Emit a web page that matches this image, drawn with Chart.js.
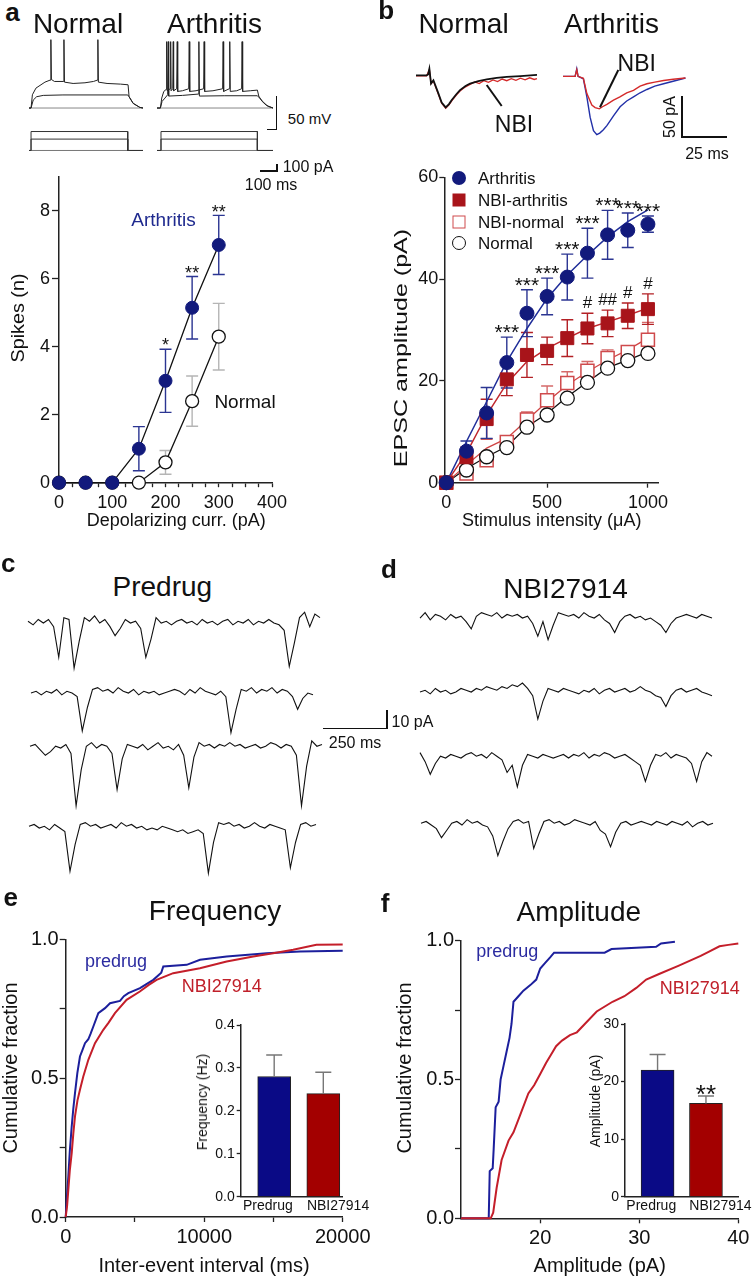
<!DOCTYPE html>
<html><head><meta charset="utf-8">
<script src="https://cdn.jsdelivr.net/npm/chart.js@4.4.1/dist/chart.umd.min.js"></script>
<style>
html,body{margin:0;padding:0;background:#fff;}
#fig{position:relative;width:755px;height:1280px;overflow:hidden;background:#fff;font-family:'Liberation Sans',Arial,Helvetica,sans-serif;color:#111;}
#fig canvas{position:absolute;}
.t{position:absolute;white-space:nowrap;line-height:1;transform:translate(-50%,-50%);}
.tl{position:absolute;white-space:nowrap;line-height:1;transform:translate(0,-50%);}
.ln{position:absolute;background:#111;}
.mk{position:absolute;box-sizing:border-box;transform:translate(-50%,-50%);}
</style></head><body><div id="fig"></div>
<script>
// ================= DATA =================
// panel a : firing vs depolarizing current
const spikeCurrent = [0, 50, 100, 150, 200, 250, 300];
const spikesArthritis = [0, 0, 0, 1.0, 3.0, 5.15, 7.0];
const spikesArthritisSem = [0, 0, 0, 0.65, 0.93, 0.92, 0.87];
const spikesNormal = [0, 0, 0, 0, 0.6, 2.4, 4.3];
const spikesNormalSem = [0, 0, 0, 0, 0.35, 0.74, 0.98];
const spikesSignif = ['', '', '', '', '*', '**', '**'];
const spikesXTicks = [0,25,50,75,100,125,150,175,200,225,250,275,300,325,350,375,400];
const spikesXLabels = [0, 100, 200, 300, 400];
const spikesYTicks = [0, 2, 4, 6, 8];

// panel a : example voltage traces [ms, mV]
const normalV0 = [[0,-70],[672,-70]];
const normalV1 = [[0,-70],[12,-70],[25,-58],[45,-53],[84,-51],[200,-50.3],[582,-50.3],[590,-53],[614,-63],[653,-69],[672,-70]];
const normalV2 = [[0,-70],[12,-70],[20,-50],[41,-40],[94,-31],[124,-28],[129,33],[132,-27],[150,-30],[202,-30],[206,33],[209,-31],[260,-33],[330,-32],[380,-30],[403,-28],[406,33],[409,-31],[460,-33],[540,-34],[584,-35],[590,-53],[614,-63],[653,-69],[672,-70]];
const arthV0 = [[0,-70],[684,-70]];
const arthV1 = [[0,-70],[20,-70],[30,-60],[47,-55],[63,-50],[66.5,30],[69,-52],[150,-51],[244,-49],[247,30],[250,-52],[400,-51.5],[592,-51.5],[605,-55],[630,-62],[655,-67.5],[684,-70]];
const arthV2 = [[0,-70],[20,-70],[28,-55],[40,-45],[54,-42],[57,30],[60,-44],[78,-41],[80.6,30],[83,-44],[93,-41],[95.9,30],[98,-44],[116,-41],[119.4,30],[122,-45],[150,-44],[187,-41],[190,30],[193,-45],[230,-44],[275,-41],[278,30],[281,-45],[330,-44],[387,-41],[390,30],[393,-45],[426,-41],[429,30],[432,-45],[470,-44],[499,-41],[501.8,30],[505,-45],[550,-44],[592,-43],[600,-52],[620,-60],[645,-66],[684,-70]];
// current steps [ms, pA]
const normalI0 = [[0,0],[672,0]];
const normalI1 = [[0,0],[12,0],[12,150],[582,150],[582,0],[672,0]];
const normalI2 = [[0,0],[12,0],[12,250],[582,250],[582,0],[672,0]];
const arthI0 = [[0,0],[684,0]];
const arthI1 = [[0,0],[23.5,0],[23.5,150],[592,150],[592,0],[684,0]];
const arthI2 = [[0,0],[23.5,0],[23.5,250],[592,250],[592,0],[684,0]];

// panel b : EPSC amplitude vs stimulus intensity
const stimIntensity = [0,100,200,300,400,500,600,700,800,900,1000];
const epscArthritis = [0,6.2,13.7,23.6,33.3,36.6,40.4,45.1,48.7,49.6,50.8];
const epscArthritisSem = [0,2,5,5,4.6,3.6,4.5,4.9,4.8,3.4,1.6];
const epscNbiArthritis = [0,5.0,12.5,20.3,25.1,25.9,28.4,30.3,31.3,32.8,34.1];
const epscNbiArthritisSem = [0,2,3.9,3.2,4.4,2.7,3.6,3.0,2.6,2.5,3.0];
const epscNbiNormal = [0,1.8,4.4,8.0,12.4,16.2,19.6,22.0,24.5,25.7,28.1];
const epscNbiNormalSem = [0,0.5,0.5,0.6,1.5,2.8,2.2,1.8,1.6,1.2,3.4];
const epscNormal = [0,2.5,5.1,6.9,10.9,13.3,16.6,19.7,22.5,24.0,25.4];
const fitArthritis = [0,8.1,15.9,23.8,30.3,36.2,40.8,44.7,48.3,51.3,53.6];
const fitNbiArthritis = [0,5.8,13.3,19.5,23.8,26.4,28.4,30.3,31.6,32.9,34.3];
const fitNbiNormal = [0,3.5,6.8,8.7,12.3,15.9,19.2,21.8,24.1,26.1,28.4];
const fitNormal = [0,2.8,5.1,7.1,11,13.6,16.9,19.8,22.6,24.1,25.7];
const epscArthritisSignif = ['','','','***','***','***','***','***','***','***','***'];
const epscNbiSignif = ['','','','','','','','#','##','#','#'];
const epscXTicks = [0, 500, 1000];
const epscYTicks = [0, 20, 40, 60];

// panel b : example EPSC traces [ms, pA]
const epscTraceNormal = [[0,0],[5.8,0],[6.6,1],[7.3,8],[7.8,-2],[8.2,-10],[8.8,-8],[9.5,-6],[12.2,-22],[14,-33],[16.2,-39],[18,-35],[19.5,-30],[22,-23],[24,-18],[27,-13],[29.5,-10],[34,-7],[38.6,-5],[44,-3],[49.5,-2],[57,-1],[66,0.5]];
const epscTraceNormalNbi = [[0,-0.5],[5.8,-0.5],[7.3,7],[8.2,-10],[9.5,-7],[12.2,-23],[14,-34],[16.2,-40],[18,-36],[19.5,-31],[22,-24],[24,-19],[27,-14],[29.5,-11],[32,-8],[34.5,-10],[37,-6.5],[39.5,-8.5],[42,-5.5],[44.5,-7.5],[47,-4.5],[49.5,-6.5],[52,-4],[54.5,-6],[57,-3.5],[59.5,-5.5],[62,-3],[64.5,-5],[66,-4]];
const epscTraceArth = [[0,0],[6.6,0],[7.5,9],[8.2,0],[11.1,-3],[13,-25],[14.8,-50],[16.6,-66],[18.4,-71],[20,-69],[22,-65],[23.9,-60],[27.5,-48],[31.1,-37],[34.7,-30],[38.4,-25],[42,-20],[45.7,-16],[50,-12],[54.8,-9],[60,-6],[66.7,-2]];
const epscTraceArthNbi = [[0,0],[6.6,0],[7.5,8],[8.2,0],[11.1,-2.5],[13,-21],[15.7,-35],[17.5,-38],[19.8,-39.5],[21.5,-37],[23.9,-34],[27.5,-29],[31,-25],[34.7,-20],[38.4,-17],[42,-12],[45.7,-9],[50,-7],[54.8,-5],[60,-3.5],[66.7,-2]];

// panels c,d : sEPSC recordings, pA sampled every 20 ms
const sampleMs = 20;
const predrugTrace1 = [1,-1,2,0,2,-2,-19,3,2,-25,-10,3,1,4,0,2,-2,-7,-3,2,0,1,-3,-19,-9,3,0,1,-1,1,2,0,1,-1,2,0,1,-1,1,2,-1,1,0,2,-1,1,0,2,0,-1,-4,-24,-11,3,6,-2,5,3];
const predrugTrace2 = [0,1,-1,1,0,2,-1,1,0,-2,-21,-8,2,3,1,2,0,3,1,0,2,-1,1,0,1,-1,0,1,2,1,-1,2,0,3,1,0,-1,1,-2,-22,-9,2,1,3,0,2,1,3,0,2,1,-2,-9,-3,0,-1];
const predrugTrace3 = [1,2,-1,-4,-2,1,0,2,-3,-32,-12,1,3,0,2,1,-3,-23,-6,2,1,0,2,-1,1,3,0,1,-1,2,-4,-22,-5,3,1,2,0,2,1,3,1,2,0,1,2,0,1,3,2,0,2,1,-4,-32,-10,4,1,2];
const predrugTrace4 = [1,2,0,1,-1,2,0,-2,-24,-9,2,3,1,2,0,1,2,0,3,1,2,0,1,-1,0,-1,1,0,-1,-2,-1,-3,-2,-1,-3,-25,-8,3,2,3,1,2,0,1,3,1,0,2,1,0,-1,-22,-8,2,3,1,2];
const nbiTrace1 = [0,3,-1,2,1,-1,2,0,1,-2,-6,1,3,2,1,3,0,2,1,2,0,1,-3,-10,-2,-12,-4,3,2,1,2,0,3,1,0,2,-1,-3,-8,-2,1,2,0,1,-1,0,-2,-4,-8,-3,0,1,2,1,0,2,1,0];
const nbiTrace2 = [0,1,-1,2,0,1,-1,0,2,1,0,2,1,3,2,1,3,2,4,3,5,2,-2,-15,-5,2,1,0,2,1,0,-1,1,0,2,-1,1,2,0,1,2,0,1,3,1,0,-2,-3,-8,-2,1,2,0,1,2,0,-1,-2];
const nbiTrace3 = [3,-2,-9,-3,1,0,2,1,0,2,3,1,2,0,3,1,-1,-8,-4,-16,-4,2,1,0,2,1,0,1,2,0,2,1,3,0,2,1,3,2,0,1,2,0,-2,-4,-13,-4,2,1,3,0,2,1,0,-3,-13,-2,3,1];
const nbiTrace4 = [1,2,0,-2,-7,-3,1,2,0,3,1,2,0,-1,-6,-17,-9,-2,2,3,1,2,-13,-5,2,3,1,2,0,1,3,2,1,0,2,-3,-5,-12,-4,1,2,0,1,2,1,0,2,1,0,2,1,0,2,-1,1,2,0,1];

// panel e : cumulative inter-event interval [ms, fraction]
const ieiPredrug = [[0,0],[100,0.08],[190,0.146],[300,0.24],[433,0.326],[550,0.39],[671,0.446],[840,0.518],[1030,0.578],[1200,0.6],[1394,0.626],[1635,0.64],[1800,0.66],[1995,0.686],[2355,0.734],[2840,0.752],[3200,0.77],[3920,0.778],[4200,0.795],[4520,0.806],[5365,0.824],[5800,0.838],[6325,0.854],[6900,0.88],[7047,0.902],[8736,0.908],[9697,0.926],[11625,0.938],[14512,0.95],[16917,0.956],[20000,0.959]];
const ieiNbi = [[0,0],[100,0.04],[190,0.098],[300,0.17],[433,0.23],[550,0.3],[671,0.362],[850,0.42],[1030,0.458],[1270,0.506],[1635,0.566],[2115,0.626],[2715,0.674],[3100,0.7],[3555,0.734],[4395,0.782],[5355,0.812],[6000,0.836],[6560,0.854],[7760,0.878],[9690,0.896],[11620,0.92],[13540,0.938],[14980,0.95],[16420,0.962],[18100,0.98],[20000,0.981]];
const ieiXTicks = [0, 5000, 10000, 15000, 20000];
const ieiXLabels = [0, 10000, 20000];
const fracTicks = [0, 0.25, 0.5, 0.75, 1];
const fracLabels = [0, 0.5, 1];

// panel f : cumulative amplitude [pA, fraction]
const ampPredrug = [[12,0],[14.8,0],[14.9,0.17],[15.2,0.18],[15.3,0.25],[15.5,0.4],[15.8,0.42],[16,0.5],[16.3,0.55],[16.6,0.6],[16.9,0.65],[17.1,0.7],[17.3,0.78],[17.8,0.8],[18.3,0.82],[19,0.84],[19.6,0.86],[20,0.9],[20.5,0.92],[21,0.94],[21.4,0.957],[26.5,0.957],[27.2,0.97],[31.7,0.978],[32.2,0.99],[33.6,0.996]];
const ampNbi = [[12,0],[15,0],[15.25,0.02],[15.6,0.11],[16.1,0.21],[16.8,0.28],[17.3,0.31],[17.95,0.37],[18.8,0.45],[19.4,0.48],[20,0.52],[20.6,0.56],[21.1,0.59],[21.6,0.62],[22.2,0.64],[23,0.66],[23.7,0.67],[24.5,0.7],[25.7,0.745],[27.3,0.78],[28.5,0.8],[29.7,0.83],[30.7,0.86],[32,0.88],[34,0.91],[36.2,0.945],[37,0.96],[38.1,0.98],[39,0.985],[40,0.99]];
const ampXTicks = [20, 30, 40];

// insets
const insetGroups = ['Predrug', 'NBI27914'];
const freqMean = [0.28, 0.24];
const freqSem = [0.05, 0.05];
const freqYTicks = [0, 0.1, 0.2, 0.3, 0.4];
const ampMean = [22.0, 16.2];
const ampSem = [2.7, 1.3];
const ampSignif = ['', '**'];
const ampYTicks = [0, 10, 20, 30];

// ================= STYLE / HELPERS =================
const FONT = "'Liberation Sans', Arial, Helvetica, sans-serif";
const NAVY = '#121a7c', DRED = '#a8141a', LRED = '#cf4a4c';
const CBLUE = '#1c1f9c', CRED = '#c41e2a', BARB = '#0a0a86', BARR = '#a30000';
Chart.defaults.font.family = FONT;
Chart.defaults.color = '#111';
Chart.defaults.animation = false;
Chart.defaults.responsive = false;
Chart.defaults.devicePixelRatio = 1;
Chart.defaults.events = [];
Chart.defaults.plugins.legend.display = false;
Chart.defaults.plugins.tooltip.enabled = false;

const fig = document.getElementById('fig');
const overlays = {};
function mkCanvas(id, left, top, w, h) {
  const c = document.createElement('canvas');
  c.id = id; c.width = Math.round(w); c.height = Math.round(h);
  c.style.left = left + 'px'; c.style.top = top + 'px';
  fig.appendChild(c); return c;
}
const xy = (xs, ys) => xs.map((x, i) => ({x, y: ys[i]}));
const pairs = arr => arr.map(p => ({x: p[0], y: p[1]}));
const sampled = ys => ys.map((y, i) => ({x: i * sampleMs, y}));

const overlayPlugin = {
  id: 'overlay',
  beforeDatasetsDraw(chart) { drawErr(chart, false); },
  afterDatasetsDraw(chart) {
    drawErr(chart, true);
    const o = overlays[chart.canvas.id]; if (!o || !o.marks) return;
    const ctx = chart.ctx, xs = chart.scales.x, ys = chart.scales.y;
    for (const m of o.marks) {
      ctx.save();
      ctx.fillStyle = m.color || '#111';
      ctx.font = (m.bold ? 'bold ' : '') + m.size + 'px ' + FONT;
      ctx.textAlign = 'center'; ctx.textBaseline = 'alphabetic';
      ctx.fillText(m.text, xs.getPixelForValue(m.x), ys.getPixelForValue(m.y) - m.gap + m.gc * m.size);
      ctx.restore();
    }
  }
};
function drawErr(chart, after) {
  const o = overlays[chart.canvas.id]; if (!o || !o.err) return;
  const ctx = chart.ctx, xs = chart.scales.x, ys = chart.scales.y;
  for (const s of o.err) {
    if (!!s.after !== after) continue;
    ctx.save(); ctx.strokeStyle = s.color; ctx.lineWidth = s.lw || 1.4;
    ctx.beginPath();
    s.x.forEach((xv, i) => {
      const e = s.err[i]; if (!e) return;
      const px = xs.getPixelForValue(xv);
      const pt = ys.getPixelForValue(s.y[i] + e);
      const pb = ys.getPixelForValue(s.up ? s.y[i] : s.y[i] - e);
      ctx.moveTo(px, pt); ctx.lineTo(px, pb);
      ctx.moveTo(px - s.cap, pt); ctx.lineTo(px + s.cap, pt);
      if (!s.up) { ctx.moveTo(px - s.cap, pb); ctx.lineTo(px + s.cap, pb); }
    });
    ctx.stroke(); ctx.restore();
  }
}
Chart.register(overlayPlugin);

function signifMarks(xs, ys, errs, labels, style) {
  const out = [];
  labels.forEach((t, i) => { if (t) out.push(Object.assign({x: xs[i], y: ys[i] + errs[i], text: t}, style)); });
  return out;
}

function mkScale(o) {
  return {
    type: 'linear', min: o.min, max: o.max, offset: false, bounds: 'data',
    afterBuildTicks: s => { s.ticks = o.ticks.map(v => ({value: v})); },
    afterFit: s => { if (o.w != null) s.width = o.w; if (o.h != null) s.height = o.h; },
    ticks: { autoSkip: false, maxRotation: 0, minRotation: 0, padding: o.pad, color: '#111',
             font: {size: o.size, family: FONT}, callback: (v, i) => o.fmt(v, i) },
    grid: { display: o.noTicks ? false : true, offset: false, drawOnChartArea: false, drawTicks: !o.noTicks,
            tickLength: o.tl || 0, tickWidth: 1.3, tickColor: '#222' },
    border: { display: true, color: '#222', width: 1.5 }
  };
}

function traceChart(id, p, sets) {
  const pad = 3;
  const W = (p.xMax - p.xMin) * p.kx, H = (p.yMax - p.yMin) * p.ky;
  const c = mkCanvas(id, p.left - pad, p.top - pad, W + 2 * pad, H + 2 * pad);
  new Chart(c, {
    type: 'line',
    data: { datasets: sets.map(s => ({ data: s.data, borderColor: s.color, borderWidth: s.lw || 1,
            pointRadius: 0, clip: false, tension: 0 })) },
    options: { layout: {padding: pad},
      scales: { x: {type: 'linear', display: false, min: p.xMin, max: p.xMax},
                y: {type: 'linear', display: false, min: p.yMin, max: p.yMax} } }
  });
}

// ================= PANEL a : traces =================
const vPos = {xMin: 0, yMin: -76, yMax: 40, kx: 0.17, ky: 0.66, top: 108 - 110 * 0.66};
traceChart('aVn', Object.assign({}, vPos, {left: 29, xMax: 672}), [
  {data: pairs(normalV2), color: '#222'}, {data: pairs(normalV1), color: '#222'}, {data: pairs(normalV0), color: '#888'}]);
traceChart('aVa', Object.assign({}, vPos, {left: 157, xMax: 684}), [
  {data: pairs(arthV2), color: '#222'}, {data: pairs(arthV1), color: '#222'}, {data: pairs(arthV0), color: '#888'}]);
const iPos = {xMin: 0, yMin: -20, yMax: 270, kx: 0.17, ky: 0.075, top: 150.7 - 270 * 0.075};
traceChart('aIn', Object.assign({}, iPos, {left: 29, xMax: 672}), [
  {data: pairs(normalI2), color: '#333'}, {data: pairs(normalI1), color: '#333'}, {data: pairs(normalI0), color: '#777'}]);
traceChart('aIa', Object.assign({}, iPos, {left: 157, xMax: 684}), [
  {data: pairs(arthI2), color: '#333'}, {data: pairs(arthI1), color: '#333'}, {data: pairs(arthI0), color: '#777'}]);

// ================= PANEL a : plot =================
overlays['cA'] = {
  err: [
    {x: spikeCurrent, y: spikesNormal, err: spikesNormalSem, color: '#b5b5b5', cap: 6},
    {x: spikeCurrent, y: spikesArthritis, err: spikesArthritisSem, color: '#2b3592', cap: 6}
  ],
  marks: signifMarks(spikeCurrent, spikesArthritis, spikesArthritisSem, spikesSignif, {size: 18, gap: 8, gc: 0.57})
};
new Chart(mkCanvas('cA', 0, 160, 300, 380), {
  type: 'line',
  data: { datasets: [
    { data: xy(spikeCurrent, spikesArthritis), borderColor: '#111', borderWidth: 1.3, pointRadius: 6.5,
      pointBackgroundColor: NAVY, pointBorderColor: NAVY, pointBorderWidth: 1, clip: false },
    { data: xy(spikeCurrent, spikesNormal), borderColor: '#111', borderWidth: 1.3, pointRadius: 6.5,
      pointBackgroundColor: '#fff', pointBorderColor: '#111', pointBorderWidth: 1.3, clip: false }
  ]},
  options: {
    layout: {padding: {left: 0, top: 17, right: 28, bottom: 0}},
    scales: {
      x: mkScale({min: 0, max: 400, ticks: spikesXTicks, fmt: v => spikesXLabels.includes(v) ? String(v) : '',
                  size: 18, tl: 4.5, pad: 5, h: 57.3}),
      y: mkScale({min: 0, max: 9, ticks: spikesYTicks, fmt: v => String(v), size: 18, tl: 7, pad: 2, w: 59})
    }
  }
});

// ================= PANEL b : traces =================
const ePos = {xMin: 0, yMin: -75, yMax: 15, kx: 1.83, ky: 0.82};
traceChart('bTn', Object.assign({}, ePos, {left: 416, top: 75.5 - 15 * 0.82, xMax: 66}), [
  {data: pairs(epscTraceNormal), color: '#111', lw: 1.8}, {data: pairs(epscTraceNormalNbi), color: '#d42a2a', lw: 1.3}]);
traceChart('bTa', Object.assign({}, ePos, {left: 563, top: 76 - 15 * 0.82, xMax: 67}), [
  {data: pairs(epscTraceArthNbi), color: '#d42a2a', lw: 1.4}, {data: pairs(epscTraceArth), color: '#2230a8', lw: 1.4}]);

// ================= PANEL b : plot =================
overlays['cB'] = {
  err: [
    {x: stimIntensity, y: epscNbiNormal, err: epscNbiNormalSem, color: '#d56a6a', cap: 6},
    {x: stimIntensity, y: epscNbiArthritis, err: epscNbiArthritisSem, color: '#b32025', cap: 6},
    {x: stimIntensity, y: epscArthritis, err: epscArthritisSem, color: '#2b3592', cap: 6}
  ],
  marks: signifMarks(stimIntensity, epscArthritis, epscArthritisSem, epscArthritisSignif, {size: 21, gap: 10, gc: 0.57})
    .concat(signifMarks(stimIntensity, epscNbiArthritis, epscNbiArthritisSem, epscNbiSignif, {size: 17, gap: 11, gc: 0.36}))
};
new Chart(mkCanvas('cB', 380, 160, 375, 380), {
  type: 'line',
  data: { datasets: [
    { data: xy(stimIntensity, epscArthritis), showLine: false, pointRadius: 7, pointStyle: 'circle',
      pointBackgroundColor: NAVY, pointBorderColor: NAVY, pointBorderWidth: 1, clip: false },
    { data: xy(stimIntensity, epscNbiArthritis), showLine: false, pointRadius: 9.2, pointStyle: 'rect',
      pointBackgroundColor: DRED, pointBorderColor: DRED, pointBorderWidth: 1, clip: false },
    { data: xy(stimIntensity, epscNormal), showLine: false, pointRadius: 7, pointStyle: 'circle',
      pointBackgroundColor: '#fff', pointBorderColor: '#111', pointBorderWidth: 1.3, clip: false },
    { data: xy(stimIntensity, epscNbiNormal), showLine: false, pointRadius: 9.2, pointStyle: 'rect',
      pointBackgroundColor: '#fff', pointBorderColor: LRED, pointBorderWidth: 1.5, clip: false },
    { data: xy(stimIntensity, fitArthritis), borderColor: '#1f2d99', borderWidth: 1.5, pointRadius: 0, clip: false },
    { data: xy(stimIntensity, fitNbiArthritis), borderColor: '#c0272d', borderWidth: 1.5, pointRadius: 0, clip: false },
    { data: xy(stimIntensity, fitNbiNormal), borderColor: '#d04545', borderWidth: 1.3, pointRadius: 0, clip: false },
    { data: xy(stimIntensity, fitNormal), borderColor: '#111', borderWidth: 1.3, pointRadius: 0, clip: false }
  ]},
  options: {
    layout: {padding: {left: 0, top: 17.3, right: 97, bottom: 0}},
    scales: {
      x: mkScale({min: -10, max: 1050, ticks: epscXTicks, fmt: v => String(v), size: 18, tl: 5, pad: 4.5, h: 57.3}),
      y: mkScale({min: 0, max: 60, ticks: epscYTicks, fmt: v => String(v), size: 18, tl: 5, pad: 1, w: 64.3})
    }
  }
});

// ================= PANELS c, d : recordings =================
const sPos = {xMin: 0, yMin: -36, yMax: 10, kx: 0.256 , ky: 1.8};
function recTrace(id, data, left, baseline) {
  traceChart(id, Object.assign({}, sPos, {left: left, top: baseline - 10 * 1.8, xMax: (data.length - 1) * sampleMs}),
    [{data: sampled(data), color: '#111', lw: 1.1}]);
}
recTrace('c1', predrugTrace1, 28, 623);
recTrace('c2', predrugTrace2, 31, 693);
recTrace('c3', predrugTrace3, 30, 748);
recTrace('c4', predrugTrace4, 29, 828);
recTrace('d1', nbiTrace1, 420, 618);
recTrace('d2', nbiTrace2, 420, 691.7);
recTrace('d3', nbiTrace3, 420, 758);
recTrace('d4', nbiTrace4, 421, 825);

// ================= PANEL e =================
new Chart(mkCanvas('cE', 0, 920, 380, 360), {
  type: 'line',
  data: { datasets: [
    { data: pairs(ieiNbi), borderColor: CRED, borderWidth: 2, pointRadius: 0, clip: false },
    { data: pairs(ieiPredrug), borderColor: CBLUE, borderWidth: 2, pointRadius: 0, clip: false }
  ]},
  options: {
    layout: {padding: {left: 0, top: 19.3, right: 37.3, bottom: 0}},
    scales: {
      x: mkScale({min: 0, max: 20000, ticks: ieiXTicks, fmt: v => ieiXLabels.includes(v) ? String(v) : '', size: 20, tl: 5, pad: 3, h: 63}),
      y: mkScale({min: 0, max: 1, ticks: fracTicks, fmt: v => fracLabels.includes(v) ? v.toFixed(1) : '', size: 20, tl: 6, pad: 1, w: 65.7})
    }
  }
});

// ================= PANEL f =================
new Chart(mkCanvas('cF', 380, 920, 375, 360), {
  type: 'line',
  data: { datasets: [
    { data: pairs(ampNbi), borderColor: CRED, borderWidth: 2, pointRadius: 0, clip: false },
    { data: pairs(ampPredrug), borderColor: CBLUE, borderWidth: 2, pointRadius: 0, clip: false }
  ]},
  options: {
    layout: {padding: {left: 0, top: 20.7, right: 16.7, bottom: 0}},
    scales: {
      x: mkScale({min: 12, max: 40, ticks: ampXTicks, fmt: v => String(v), size: 20, tl: 5, pad: 3, h: 61.7}),
      y: mkScale({min: 0, max: 1, ticks: fracTicks, fmt: v => fracLabels.includes(v) ? v.toFixed(1) : '', size: 20, tl: 6, pad: 1, w: 81})
    }
  }
});

// ================= INSETS =================
// group labels sit slightly outside the bar centres, as in the figure
const insetLabelAt = [0.87, 2.3];
function insetChart(id, left, top, w, h, pad, yW, xMin, xMax, means, sems, yMax, yTicks, yFmt, signif) {
  const xs = insetGroups.map((g, i) => i + 1);
  overlays[id] = {
    err: [{x: xs, y: means, err: sems, color: '#777', cap: 8, up: true, after: true, lw: 1.4}],
    marks: signif ? signifMarks(xs, means, sems, signif, {size: 26, gap: 8, gc: 0.57}) : []
  };
  new Chart(mkCanvas(id, left, top, w, h), {
    type: 'bar',
    data: { datasets: [{ data: xy(xs, means), backgroundColor: [BARB, BARR], borderColor: '#222',
                         borderWidth: 1, barThickness: 33, borderSkipped: 'bottom', grouped: false }] },
    options: {
      layout: {padding: pad},
      scales: {
        x: mkScale({min: xMin, max: xMax, ticks: insetLabelAt, fmt: (v, i) => insetGroups[i], size: 14, pad: 1, h: h - 191.7, noTicks: true}),
        y: mkScale({min: 0, max: yMax, ticks: yTicks, fmt: yFmt, size: 14, tl: 4, pad: 2, w: yW})
      }
    }
  });
}
insetChart('iE', 180, 1005, 200, 225, {left: 0, top: 20, right: 37.3, bottom: 0}, 60.7, 0.318, 2.395,
  freqMean, freqSem, 0.4, freqYTicks, v => v.toFixed(1), null);
insetChart('iF', 560, 1005, 195, 225, {left: 0, top: 19, right: 15, bottom: 0}, 65, 0.327, 2.674,
  ampMean, ampSem, 30, ampYTicks, v => String(v), ampSignif);

// ================= TEXT / SCALE BARS =================
function T(s, x, y, size, o) {
  o = o || {};
  const d = document.createElement('div');
  d.className = o.left ? 'tl' : 't';
  d.textContent = s;
  d.style.left = x + 'px'; d.style.top = y + 'px'; d.style.fontSize = size + 'px';
  if (o.bold) d.style.fontWeight = 'bold';
  if (o.color) d.style.color = o.color;
  if (o.rot) d.style.transform = 'translate(-50%,-50%) rotate(-90deg)' + (o.sx ? ' scaleX(' + o.sx + ')' : '');
  fig.appendChild(d);
}
function L(x, y, w, h) {
  const d = document.createElement('div'); d.className = 'ln';
  d.style.left = x + 'px'; d.style.top = y + 'px'; d.style.width = w + 'px'; d.style.height = h + 'px';
  fig.appendChild(d);
}
function M(x, y, w, h, css) {
  const d = document.createElement('div'); d.className = 'mk';
  d.style.left = x + 'px'; d.style.top = y + 'px'; d.style.width = w + 'px'; d.style.height = h + 'px';
  d.style.cssText += css; fig.appendChild(d);
}
// panel a
T('a', 12.5, 12, 26, {bold: true});
T('Normal', 78, 24, 28);
T('Arthritis', 214.5, 24, 28);
T('50 mV', 309.5, 117.5, 15);
T('100 pA', 308, 166.7, 16);
T('100 ms', 271, 185, 16);
T('Arthritis', 163.5, 218.8, 19, {color: '#1f2a8f'});
T('Normal', 245, 401, 19);
T('Spikes (n)', 17.5, 317.7, 18, {rot: true, sx: 1.1});
T('Depolarizing curr. (pA)', 176.3, 519.5, 18);
L(275.5, 96, 1.5, 34); L(267, 128.5, 10, 1.5);
L(260, 170, 17.5, 1.5); L(276, 163.5, 1.5, 8);
// panel b
T('b', 386.3, 10, 26, {bold: true});
T('Normal', 463.5, 24, 28);
T('Arthritis', 611.5, 24, 28);
T('NBI', 514, 124.2, 23);
T('NBI', 636.7, 62.8, 23);
T('50 pA', 670, 116.7, 16, {rot: true});
T('25 ms', 707, 153.8, 16);
T('EPSC amplitude (pA)', 400, 348, 19, {rot: true, sx: 1.32});
T('Stimulus intensity (\u03bcA)', 551.7, 519.5, 18);
L(680.5, 95.7, 2, 41.5); L(680.5, 135.5, 46, 2);
M(459, 178.3, 14, 14, 'background:' + NAVY + ';border-radius:50%;');
M(459, 200, 13, 13, 'background:' + DRED + ';');
M(459, 221.7, 13, 13, 'background:#fff;border:1.5px solid ' + LRED + ';');
M(459, 243.3, 14, 14, 'background:#fff;border:1.3px solid #111;border-radius:50%;');
T('Arthritis', 478, 178.3, 17, {left: true});
T('NBI-arthritis', 478, 200, 17, {left: true});
T('NBI-normal', 478, 221.7, 17, {left: true});
T('Normal', 478, 243.3, 17, {left: true});
// panels c, d
T('c', 8.3, 563, 26, {bold: true});
T('Predrug', 162.3, 587, 28);
T('250 ms', 355, 742.5, 16);
T('10 pA', 412.5, 721.7, 16);
L(323, 727.5, 64, 1.5); L(386, 710, 1.5, 19);
T('d', 389, 569, 26, {bold: true});
T('NBI27914', 565.5, 588.5, 28);
// panel e
T('e', 10.8, 897, 26, {bold: true});
T('Frequency', 215, 911, 28);
T('predrug', 116, 960.5, 18, {color: '#2b2ba0'});
T('NBI27914', 221.8, 986.3, 18, {color: '#c0202a'});
T('Cumulative fraction', 9.5, 1067.5, 20, {rot: true});
T('Inter-event interval (ms)', 204, 1265, 20);
T('Frequency (Hz)', 202, 1101.7, 14, {rot: true});
// panel f
T('f', 385, 902.5, 26, {bold: true});
T('Amplitude', 578.8, 911.7, 28);
T('predrug', 507.3, 950.5, 18, {color: '#2b2ba0'});
T('NBI27914', 699.7, 987.5, 18, {color: '#c0202a'});
T('Cumulative fraction', 404, 1067.5, 20, {rot: true});
T('Amplitude (pA)', 599.7, 1265, 20);
T('Amplitude (pA)', 595, 1100.8, 14, {rot: true});
// pointer lines in panel b
const svgNS = 'http://www.w3.org/2000/svg';
const svg = document.createElementNS(svgNS, 'svg');
svg.setAttribute('width', 755); svg.setAttribute('height', 1280);
svg.style.position = 'absolute'; svg.style.left = '0'; svg.style.top = '0'; svg.style.pointerEvents = 'none';
[[486.7, 85, 501.7, 106], [618.3, 70, 600, 107.3]].forEach(p => {
  const l = document.createElementNS(svgNS, 'line');
  l.setAttribute('x1', p[0]); l.setAttribute('y1', p[1]); l.setAttribute('x2', p[2]); l.setAttribute('y2', p[3]);
  l.setAttribute('stroke', '#111'); l.setAttribute('stroke-width', '2'); svg.appendChild(l);
});
fig.appendChild(svg);
</script></body></html>
